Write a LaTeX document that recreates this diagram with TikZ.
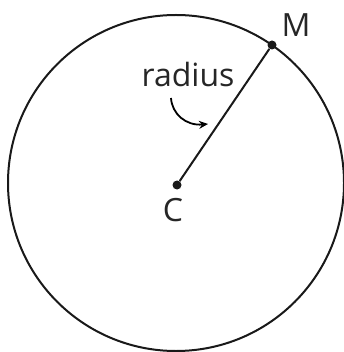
\documentclass[tikz,border=0pt]{standalone}
\usepackage{fontspec}
\setmainfont{Open Sans}
\usetikzlibrary{arrows.meta}
\begin{document}
\begin{tikzpicture}[x=1pt,y=-1pt,
  line/.style={line width=2pt, draw=black!90},
  pt/.style={circle, fill=black!90, inner sep=0pt, minimum size=9pt},
  lbl/.style={font=\fontsize{32}{36}\selectfont, text=black!85, inner sep=0pt}]
\useasboundingbox (0,0) rectangle (344,352);
\node[circle, line, minimum size=336pt, inner sep=0pt] (circ) at (176,183) {};
\node[pt] (C) at (177,185) {};
\node[pt] (M) at (272,45) {};
\draw[line] (C) -- (M);
\node[lbl] (Cl) at (173,210) {C};
\node[lbl] (Ml) at (296,25) {M};
\node[lbl] (rl) at (188,75) {radius};
\coordinate (a1) at (171,98);
\coordinate (a2) at (208,124);
\draw[line width=1.8pt, -{Stealth[length=9pt,width=8pt]}] (a1) .. controls (172,114) and (186,126) .. (a2);
\end{tikzpicture}
\end{document}
